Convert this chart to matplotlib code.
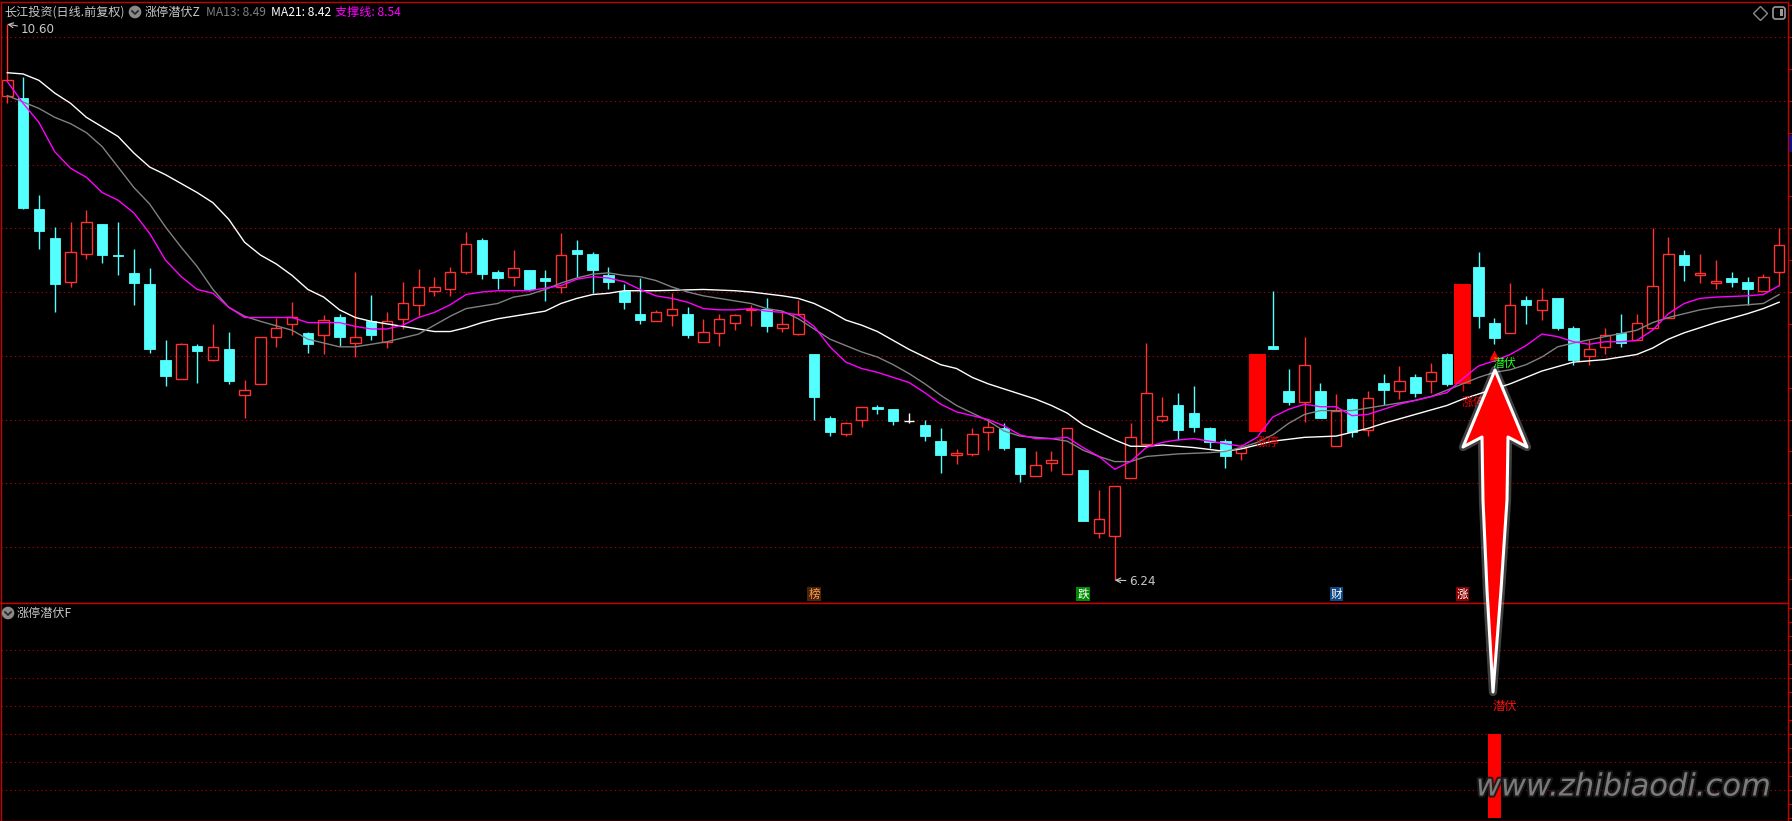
import matplotlib
matplotlib.use('Agg')
import matplotlib.pyplot as plt
from matplotlib.patches import Rectangle, Polygon, Circle, FancyBboxPatch
from matplotlib.transforms import blended_transform_factory, offset_copy
from matplotlib.patheffects import withStroke
import numpy as np

plt.rcParams['font.family'] = ['Noto Sans CJK SC', 'DejaVu Sans']

# ---- daily bars ----
opens = [10.04, 10.02, 9.15, 8.92, 8.58, 8.80, 9.03, 8.79, 8.65, 8.56,
         7.97, 7.82, 8.08, 7.97, 8.05, 7.69, 7.78, 8.15, 8.25, 8.18,
         8.16, 8.30, 8.10, 8.27, 8.11, 8.29, 8.40, 8.51, 8.52, 8.66,
         8.91, 8.66, 8.62, 8.67, 8.61, 8.54, 8.83, 8.80, 8.63, 8.51,
         8.33, 8.27, 8.32, 8.33, 8.11, 8.18, 8.26, 8.36, 8.37, 8.22,
         8.17, 8.01, 7.51, 7.39, 7.50, 7.60, 7.58, 7.49, 7.46, 7.33,
         7.22, 7.23, 7.40, 7.43, 7.28, 7.06, 7.16, 7.07, 7.10, 6.61,
         6.59, 7.04, 7.31, 7.50, 7.61, 7.55, 7.43, 7.33, 7.24, 7.40,
         8.08, 7.72, 7.64, 7.72, 7.29, 7.66, 7.42, 7.79, 7.72, 7.83,
         7.80, 8.01, 7.78, 8.70, 8.26, 8.18, 8.44, 8.36, 8.45, 8.22,
         8.00, 8.07, 8.18, 8.12, 8.22, 8.30, 8.79, 8.63, 8.57, 8.61,
         8.58, 8.51, 8.66]
highs = [10.60, 10.19, 9.26, 9.01, 9.05, 9.14, 9.03, 9.05, 8.84, 8.69,
         8.12, 8.10, 8.09, 8.25, 8.19, 7.81, 8.15, 8.30, 8.42, 8.19,
         8.32, 8.33, 8.66, 8.48, 8.34, 8.58, 8.68, 8.62, 8.70, 8.97,
         8.92, 8.67, 8.83, 8.67, 8.67, 8.96, 8.91, 8.81, 8.70, 8.56,
         8.61, 8.36, 8.49, 8.38, 8.29, 8.33, 8.33, 8.40, 8.45, 8.35,
         8.44, 8.01, 7.53, 7.48, 7.60, 7.61, 7.58, 7.55, 7.50, 7.43,
         7.27, 7.43, 7.50, 7.47, 7.28, 7.25, 7.25, 7.43, 7.10, 6.95,
         6.98, 7.47, 8.10, 7.68, 7.71, 7.76, 7.44, 7.35, 7.31, 8.01,
         8.51, 7.90, 8.15, 7.79, 7.70, 7.67, 7.72, 7.86, 7.92, 7.86,
         7.94, 8.02, 8.56, 8.81, 8.30, 8.57, 8.47, 8.53, 8.45, 8.23,
         8.12, 8.22, 8.33, 8.33, 9.00, 8.93, 8.83, 8.80, 8.75, 8.66,
         8.62, 8.64, 9.00]
lows = [9.98, 9.15, 8.84, 8.34, 8.54, 8.76, 8.73, 8.63, 8.40, 8.02,
        7.76, 7.82, 7.79, 7.96, 7.78, 7.51, 7.78, 8.07, 8.16, 8.02,
        8.01, 8.08, 7.99, 8.12, 8.06, 8.21, 8.31, 8.47, 8.47, 8.64,
        8.60, 8.52, 8.55, 8.51, 8.43, 8.49, 8.62, 8.49, 8.52, 8.37,
        8.25, 8.27, 8.23, 8.14, 8.11, 8.08, 8.20, 8.23, 8.19, 8.19,
        8.16, 7.50, 7.37, 7.37, 7.44, 7.54, 7.46, 7.47, 7.33, 7.08,
        7.15, 7.21, 7.26, 7.26, 7.01, 7.06, 7.10, 7.07, 6.70, 6.57,
        6.24, 7.04, 7.30, 7.48, 7.34, 7.40, 7.28, 7.12, 7.18, 7.40,
        8.05, 7.61, 7.48, 7.51, 7.29, 7.36, 7.37, 7.61, 7.66, 7.68,
        7.71, 7.76, 7.72, 8.22, 8.09, 8.18, 8.25, 8.28, 8.20, 7.93,
        7.93, 8.01, 8.07, 8.12, 8.22, 8.30, 8.59, 8.57, 8.52, 8.54,
        8.40, 8.51, 8.55]
closes = [10.16, 9.16, 8.98, 8.56, 8.81, 9.05, 8.79, 8.78, 8.57, 8.05,
          7.84, 8.09, 8.04, 8.07, 7.80, 7.73, 8.15, 8.22, 8.30, 8.09,
          8.28, 8.15, 8.15, 8.16, 8.27, 8.41, 8.54, 8.54, 8.66, 8.88,
          8.64, 8.61, 8.69, 8.52, 8.59, 8.79, 8.80, 8.67, 8.58, 8.42,
          8.28, 8.34, 8.37, 8.16, 8.19, 8.29, 8.32, 8.37, 8.23, 8.25,
          8.33, 7.68, 7.40, 7.47, 7.60, 7.58, 7.49, 7.49, 7.37, 7.22,
          7.24, 7.39, 7.44, 7.28, 7.07, 7.14, 7.18, 7.43, 6.70, 6.72,
          6.98, 7.36, 7.71, 7.53, 7.42, 7.44, 7.32, 7.21, 7.28, 8.01,
          8.05, 7.64, 7.93, 7.51, 7.57, 7.40, 7.67, 7.73, 7.80, 7.71,
          7.87, 7.78, 8.56, 8.31, 8.14, 8.40, 8.40, 8.44, 8.22, 7.97,
          8.05, 8.16, 8.10, 8.26, 8.55, 8.80, 8.71, 8.65, 8.59, 8.58,
          8.52, 8.62, 8.87]

# limit-up days and the signal day
zt_days = [79, 92]
signal_days = [94]
signal_values = [1]

# indicator lines sampled from the chart: (bar index, price)
ma13_idx = [0, 1, 2, 3, 4, 5, 6, 7, 8, 9, 10, 11, 12, 13, 14, 15, 16, 18, 19, 20,
            21, 22, 23, 24, 26, 27, 28, 29, 31, 32, 33, 34, 35, 36, 37, 38, 39, 40,
            41, 42, 43, 44, 45, 46, 47, 48, 49, 50, 51, 52, 53, 54, 55, 56, 57, 58,
            59, 60, 61, 62, 63, 64, 65, 66, 67, 68, 69, 70, 71, 72, 74, 76, 77, 78,
            79, 80, 81, 82, 83, 85, 87, 89, 90, 91, 92, 93, 94, 95, 96, 97, 98, 99,
            101, 103, 104, 105, 106, 107, 108, 110, 111, 112]
ma13_val = [10.04, 9.99, 9.94, 9.87, 9.82, 9.75, 9.64, 9.48, 9.32, 9.19, 9.01, 8.85,
            8.70, 8.52, 8.38, 8.31, 8.27, 8.20, 8.13, 8.10, 8.07, 8.07, 8.09, 8.11,
            8.17, 8.24, 8.31, 8.37, 8.41, 8.46, 8.48, 8.52, 8.57, 8.61, 8.64, 8.65,
            8.63, 8.62, 8.59, 8.54, 8.50, 8.47, 8.45, 8.43, 8.41, 8.37, 8.35, 8.29,
            8.21, 8.13, 8.08, 8.03, 7.99, 7.93, 7.86, 7.78, 7.69, 7.61, 7.55, 7.49,
            7.41, 7.37, 7.36, 7.35, 7.33, 7.26, 7.21, 7.17, 7.17, 7.21, 7.23, 7.24,
            7.25, 7.28, 7.32, 7.38, 7.47, 7.54, 7.57, 7.57, 7.61, 7.65, 7.68, 7.73,
            7.78, 7.83, 7.87, 7.89, 7.93, 7.99, 8.07, 8.10, 8.15, 8.20, 8.26, 8.30,
            8.33, 8.36, 8.38, 8.40, 8.41, 8.48]
ma21_idx = [0, 1, 2, 3, 4, 5, 7, 8, 9, 10, 11, 12, 13, 14, 15, 16, 17, 18, 19, 20,
            21, 22, 23, 24, 25, 26, 27, 28, 29, 30, 31, 32, 34, 35, 36, 37, 38, 39,
            41, 44, 46, 47, 49, 50, 51, 52, 53, 54, 55, 56, 57, 58, 59, 60, 61, 62,
            63, 64, 65, 66, 67, 68, 69, 70, 71, 72, 73, 75, 77, 78, 79, 80, 82, 84,
            86, 87, 89, 91, 92, 93, 95, 97, 99, 101, 103, 104, 105, 106, 107, 108,
            110, 111, 112]
ma21_val = [10.22, 10.21, 10.16, 10.06, 9.98, 9.87, 9.72, 9.59, 9.48, 9.42, 9.35,
            9.28, 9.20, 9.07, 8.89, 8.79, 8.72, 8.63, 8.52, 8.46, 8.36, 8.30, 8.27,
            8.25, 8.23, 8.21, 8.19, 8.19, 8.22, 8.26, 8.29, 8.31, 8.35, 8.41, 8.45,
            8.48, 8.49, 8.51, 8.51, 8.52, 8.51, 8.50, 8.47, 8.45, 8.41, 8.35, 8.28,
            8.24, 8.19, 8.12, 8.05, 7.99, 7.93, 7.90, 7.83, 7.78, 7.74, 7.70, 7.66,
            7.61, 7.55, 7.46, 7.40, 7.34, 7.29, 7.29, 7.30, 7.28, 7.25, 7.27, 7.30,
            7.33, 7.36, 7.37, 7.43, 7.47, 7.54, 7.61, 7.66, 7.70, 7.78, 7.88, 7.95,
            7.97, 8.01, 8.06, 8.13, 8.18, 8.22, 8.26, 8.33, 8.37, 8.42]
zcx_idx = [0, 1, 2, 3, 4, 5, 6, 7, 8, 9, 10, 11, 12, 13, 14, 15, 16, 18, 19, 21,
           22, 23, 24, 25, 26, 27, 28, 29, 30, 31, 33, 34, 35, 36, 37, 38, 39, 40,
           41, 42, 43, 44, 45, 46, 47, 48, 49, 50, 51, 52, 53, 54, 55, 57, 58, 59,
           60, 61, 62, 63, 64, 65, 66, 67, 68, 69, 70, 71, 72, 73, 74, 75, 76, 77,
           78, 79, 80, 81, 82, 83, 84, 85, 86, 87, 88, 89, 90, 91, 92, 93, 94, 95,
           96, 97, 98, 99, 100, 101, 102, 103, 104, 105, 106, 107, 108, 110, 111, 112]
zcx_val = [10.15, 9.98, 9.83, 9.60, 9.47, 9.40, 9.28, 9.22, 9.12, 8.96, 8.75, 8.62,
           8.52, 8.49, 8.38, 8.30, 8.30, 8.30, 8.26, 8.26, 8.23, 8.21, 8.21, 8.24,
           8.30, 8.34, 8.40, 8.48, 8.50, 8.51, 8.51, 8.53, 8.55, 8.60, 8.62, 8.61,
           8.58, 8.52, 8.47, 8.45, 8.42, 8.37, 8.36, 8.36, 8.37, 8.35, 8.34, 8.32,
           8.23, 8.07, 7.95, 7.90, 7.87, 7.79, 7.71, 7.62, 7.56, 7.53, 7.50, 7.45,
           7.38, 7.35, 7.35, 7.36, 7.28, 7.21, 7.11, 7.17, 7.28, 7.32, 7.34, 7.35,
           7.33, 7.31, 7.29, 7.36, 7.52, 7.58, 7.62, 7.60, 7.60, 7.53, 7.54, 7.58,
           7.62, 7.65, 7.68, 7.71, 7.82, 7.92, 7.96, 8.01, 8.08, 8.17, 8.15, 8.11,
           8.09, 8.11, 8.11, 8.12, 8.20, 8.33, 8.41, 8.45, 8.46, 8.47, 8.48, 8.55]

# event tags along the bottom of the price pane
tag_days = [51, 68, 84, 92]
tag_text = ['榜', '跌', '财', '涨']
tag_fg = ['#ff9a50', '#ffffff', '#ffffff', '#ffffff']
tag_bg = ['#4a2408', '#008a00', '#0c4a86', '#8a0000']

W, H = 1792, 821
STEP, X0 = 15.82, 7.3          # px per bar, px of bar 0
RED = '#ff3232'
CYAN = '#54ffff'
FRAME = '#c40000'
GRID = '#a80000'
FS = 8.7

fig = plt.figure(figsize=(W / 100, H / 100), dpi=100, facecolor='black')

ax = fig.add_axes([1 / W, 1 - 603 / H, 1787 / W, 601 / H])
axb = fig.add_axes([1 / W, 0, 1787 / W, 218 / H])
for a in (ax, axb):
    a.set_facecolor('black')
    a.set_xlim((1 - X0) / STEP, (1788 - X0) / STEP)
    for s in a.spines.values():
        s.set_color(FRAME)
        s.set_linewidth(1.0)
    a.set_xticks([])
    a.yaxis.tick_right()
    a.tick_params(axis='y', direction='out', length=3, color=FRAME,
                  labelright=False, right=True, left=False)

# price pane: 0.5 per 63.75 px
ax.set_ylim(10.5 - 566 / 127.5, 10.5 + 35 / 127.5)
ax.set_yticks(np.arange(6.25, 10.76, 0.25))
for p in np.arange(6.5, 10.51, 0.5):
    ax.axhline(p, color=GRID, lw=0.8, ls=(0, (1.2, 2.8)), zorder=1)

# candles
bw = 0.66
for i in range(len(opens)):
    o, h, l, c = opens[i], highs[i], lows[i], closes[i]
    if i in zt_days:
        ax.vlines(i, l, min(o, c), color='#ff0000', lw=1.0, zorder=2)
        ax.add_patch(Rectangle((i - 0.54, o), 1.08, c - o, facecolor='#ff0000',
                               edgecolor='none', zorder=2))
    elif c > o:
        ax.vlines(i, c, h, color=RED, lw=1.0, zorder=2)
        ax.vlines(i, l, o, color=RED, lw=1.0, zorder=2)
        ax.add_patch(Rectangle((i - bw / 2, o), bw, c - o, fill=False,
                               edgecolor=RED, lw=1.0, zorder=2))
    elif c < o:
        ax.vlines(i, l, h, color=CYAN, lw=1.0, zorder=2)
        ax.add_patch(Rectangle((i - bw / 2, c), bw, o - c, facecolor=CYAN,
                               edgecolor=CYAN, lw=0.6, zorder=2))
    else:
        ax.vlines(i, l, h, color='white', lw=1.0, zorder=2)
        ax.hlines(c, i - bw / 2, i + bw / 2, color='white', lw=1.0, zorder=2)

ax.plot(ma21_idx, ma21_val, color='white', lw=1.0, zorder=3)
ax.plot(ma13_idx, ma13_val, color='#808080', lw=1.0, zorder=3)
ax.plot(zcx_idx, zcx_val, color='#ff00ff', lw=1.0, zorder=3)

# high / low markers
hi = int(np.argmax(highs))
lo = int(np.argmin(lows))
ax.annotate(f'{highs[hi]:.2f}', xy=(hi, highs[hi]), xytext=(13, -5),
            textcoords='offset pixels', ha='left', va='center', color='#c8c8c8',
            fontsize=8.6, family='DejaVu Sans',
            arrowprops=dict(arrowstyle='->', color='#c8c8c8', lw=0.8,
                            shrinkA=0, shrinkB=0))
ax.annotate(f'{lows[lo]:.2f}', xy=(lo, lows[lo]), xytext=(14, -1),
            textcoords='offset pixels', ha='left', va='center', color='#c8c8c8',
            fontsize=8.6, family='DejaVu Sans',
            arrowprops=dict(arrowstyle='->', color='#c8c8c8', lw=0.8,
                            shrinkA=0, shrinkB=0))

# limit-up labels
for d in zt_days:
    ax.annotate('涨停', xy=(d, lows[d]), xytext=(-1, -4), textcoords='offset pixels',
                ha='left', va='top', color='#e80000', fontsize=8.6, zorder=4)

# green signal label on the price pane
for d in signal_days:
    tr = offset_copy(ax.transData, fig=fig, x=0, y=-11, units='dots')
    ax.plot([d], [lows[d]], marker='^', ms=7, color='#ff0000', mec='none',
            transform=tr, zorder=4)
    ax.annotate('潜伏', xy=(d, lows[d]), xytext=(-2, -19), textcoords='offset pixels',
                ha='left', va='center', color='#22ff22', fontsize=8.6, zorder=5)

# event tags
tb = blended_transform_factory(ax.transData, ax.transAxes)
for d, t, fg, bg in zip(tag_days, tag_text, tag_fg, tag_bg):
    ax.text(d, 9 / 601, t, transform=tb, ha='center', va='center', color=fg,
            fontsize=8.3, zorder=5,
            bbox=dict(boxstyle='square,pad=0.08', fc=bg, ec='none'))

# indicator pane
axb.set_ylim(-3.5 / 84, 214.5 / 84)
axb.set_yticks(np.arange(0, 2.55, 1 / 6))
for v in np.arange(1, 7) / 3:
    axb.axhline(v, color=GRID, lw=0.8, ls=(0, (1.2, 2.8)), zorder=1)
axb.bar(signal_days, signal_values, width=0.8, color='#ff0000', zorder=2)
for d, v in zip(signal_days, signal_values):
    axb.annotate('潜伏', xy=(d, v), xytext=(-2, 27), textcoords='offset pixels',
                 ha='left', va='center', color='#ff1010', fontsize=8.8)

# overlay in pixel units for header, icons, arrow and watermark
ov = fig.add_axes([0, 0, 1, 1], zorder=10)
ov.set_xlim(0, W)
ov.set_ylim(H, 0)
ov.axis('off')
ov.patch.set_alpha(0)

def chevron_icon(x, y):
    ov.add_patch(Circle((x, y), 6.3, facecolor='#8a8a8a', edgecolor='none'))
    ov.plot([x - 3, x, x + 3], [y - 1, y + 2, y - 1], color='#2a2a2a', lw=1.3)

ov.text(4, 12, '长江投资(日线.前复权)', color='#c8c8c8', fontsize=FS,
        ha='left', va='center')
chevron_icon(135, 12)
ov.text(145, 12, '涨停潜伏Z', color='#c8c8c8', fontsize=FS, ha='left', va='center')
ov.text(206, 12, 'MA13: 8.49', color='#808080', fontsize=FS, ha='left', va='center')
ov.text(271, 12, 'MA21: 8.42', color='#ffffff', fontsize=FS, ha='left', va='center')
ov.text(335, 12, '支撑线: 8.54', color='#ff00ff', fontsize=FS, ha='left', va='center')

chevron_icon(8, 613)
ov.text(17, 613, '涨停潜伏F', color='#c8c8c8', fontsize=FS, ha='left', va='center')

ov.plot([1760], [13], marker='D', ms=7, mfc='none', mec='#8a8a8a', mew=1.0)
ov.add_patch(FancyBboxPatch((1773, 7), 12, 12,
                            boxstyle='round,pad=0,rounding_size=2.5',
                            facecolor='none', edgecolor='#9a9a9a', lw=1.2))
ov.add_patch(Rectangle((1780, 9.5), 3, 7, facecolor='#9a9a9a', edgecolor='none'))
ov.add_patch(Rectangle((1789, 135), 3, 17, facecolor='#101080', edgecolor='none'))

# big pointer arrow
arrow_pts = [(1495, 370), (1527, 447), (1508, 437), (1507, 500), (1501, 590),
             (1493, 692), (1487, 590), (1483, 500), (1482, 437), (1463, 447)]
ov.add_patch(Polygon(arrow_pts, closed=True, facecolor='none',
                     edgecolor='white', lw=6, alpha=0.25, joinstyle='round'))
ov.add_patch(Polygon(arrow_pts, closed=True, facecolor='#ff0000',
                     edgecolor='white', lw=2.2, joinstyle='round'))

# watermark
ov.text(1476, 787, 'www.zhibiaodi.com', color='#858585', fontsize=22,
        style='italic', family='DejaVu Sans', ha='left', va='center', alpha=0.9,
        path_effects=[withStroke(linewidth=3, foreground='#1a1a1a')])

fig.savefig('out.png', dpi=100, facecolor='black')
